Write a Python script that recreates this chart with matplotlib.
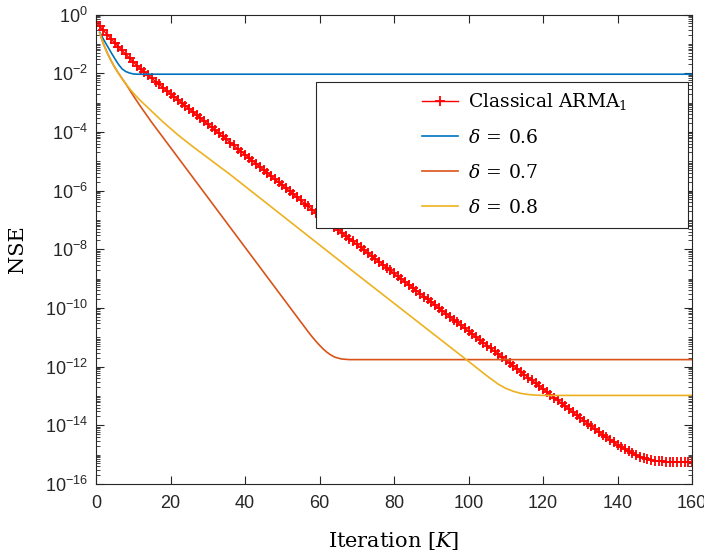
import numpy as np
import matplotlib
matplotlib.use("Agg")
import matplotlib.pyplot as plt
from matplotlib.patches import Rectangle
from matplotlib.ticker import FixedLocator, FuncFormatter, LogLocator, NullFormatter

plt.rcParams['font.family'] = 'Liberation Sans'
plt.rcParams['mathtext.fontset'] = 'custom'
plt.rcParams['mathtext.rm'] = 'DejaVu Serif'
plt.rcParams['mathtext.it'] = 'DejaVu Serif:italic'
plt.rcParams['mathtext.sf'] = 'Liberation Sans'

# NSE values stored as log10
iter_arma = np.arange(0, 161)
nse_arma = [
    -0.26, -0.40, -0.54, -0.68, -0.82, -0.96, -1.09, -1.22, -1.35, -1.48,
    -1.61, -1.74, -1.85, -1.96, -2.07, -2.17, -2.28, -2.38, -2.49, -2.59,
    -2.69, -2.80, -2.90, -3.01, -3.11, -3.21, -3.32, -3.42, -3.53, -3.63,
    -3.73, -3.84, -3.94, -4.05, -4.15, -4.25, -4.36, -4.46, -4.57, -4.67,
    -4.77, -4.88, -4.98, -5.09, -5.19, -5.29, -5.40, -5.50, -5.61, -5.71,
    -5.81, -5.92, -6.02, -6.13, -6.23, -6.33, -6.44, -6.54, -6.65, -6.75,
    -6.85, -6.95, -7.04, -7.14, -7.24, -7.34, -7.44, -7.54, -7.64, -7.73,
    -7.83, -7.93, -8.03, -8.13, -8.23, -8.33, -8.42, -8.52, -8.62, -8.72,
    -8.82, -8.92, -9.02, -9.11, -9.21, -9.31, -9.41, -9.51, -9.61, -9.70,
    -9.80, -9.90, -10.00, -10.10, -10.20, -10.30, -10.40, -10.49, -10.59, -10.69,
    -10.79, -10.89, -10.99, -11.09, -11.18, -11.28, -11.38, -11.48, -11.58, -11.68,
    -11.78, -11.87, -11.97, -12.07, -12.17, -12.27, -12.37, -12.47, -12.56, -12.66,
    -12.76, -12.86, -12.96, -13.06, -13.15, -13.25, -13.35, -13.45, -13.55, -13.65,
    -13.74, -13.84, -13.94, -14.04, -14.14, -14.23, -14.32, -14.41, -14.50, -14.58,
    -14.66, -14.74, -14.82, -14.89, -14.96, -15.02, -15.07, -15.12, -15.16, -15.19,
    -15.21, -15.22, -15.23, -15.24, -15.24, -15.24, -15.24, -15.24, -15.24, -15.24,
    -15.24,
]

iter_d06 = [1, 2, 3, 4, 5, 6, 7, 8, 9, 10, 11, 12, 160]
nse_d06 = [-0.60, -0.84, -1.06, -1.28, -1.49, -1.69, -1.85, -1.94, -1.99, -2.02,
           -2.03, -2.03, -2.03]

iter_d07 = [1, 2, 3, 4, 5, 6, 7, 8, 9, 10, 11, 12, 13, 14, 15, 16,
            20, 25, 30, 35, 40, 45, 50, 55,
            56, 57, 58, 59, 60, 61, 62, 63, 64, 65, 66, 67, 68, 160]
nse_d07 = [-0.63, -1.00, -1.30, -1.56, -1.79, -1.99, -2.18, -2.36, -2.56, -2.76,
           -2.95, -3.14, -3.32, -3.50, -3.68, -3.85,
           -4.53, -5.38, -6.23, -7.08, -7.93, -8.78, -9.63, -10.48,
           -10.65, -10.82, -10.98, -11.13, -11.27, -11.40, -11.51, -11.60, -11.67,
           -11.71, -11.74, -11.75, -11.76, -11.76]

iter_d08 = [1, 2, 3, 4, 5, 6, 7, 8, 9, 10, 11, 12, 13, 14,
            18, 22, 26, 30, 36, 40, 50, 60, 70, 80, 90, 100,
            105, 108, 110, 112, 114, 116, 118, 120, 160]
nse_d08 = [-0.63, -1.00, -1.30, -1.56, -1.79, -1.99, -2.18, -2.36, -2.52, -2.67,
           -2.81, -2.94, -3.06, -3.18,
           -3.66, -4.10, -4.50, -4.88, -5.45, -5.85, -6.85, -7.85, -8.85, -9.84,
           -10.83, -11.82,
           -12.32, -12.60, -12.74, -12.84, -12.91, -12.95, -12.97, -12.98, -12.98]

labels = ['Classical ARMA$_1$', r'$\delta\,=\,0.6$', r'$\delta\,=\,0.7$', r'$\delta\,=\,0.8$']

fig = plt.figure(figsize=(7.04, 5.53), dpi=100)
ax = fig.add_axes([0.1364, 0.1248, 0.8466, 0.8487])

ax.plot(iter_arma, 10.0 ** np.array(nse_arma), '-', color='red', marker='+',
        markersize=7, markeredgewidth=1.3, linewidth=1.0, label=labels[0])
ax.plot(iter_d06, 10.0 ** np.array(nse_d06), color='#0072BD', linewidth=1.2, label=labels[1])
ax.plot(iter_d07, 10.0 ** np.array(nse_d07), color='#D95319', linewidth=1.2, label=labels[2])
ax.plot(iter_d08, 10.0 ** np.array(nse_d08), color='#EDB120', linewidth=1.2, label=labels[3])

ax.set_yscale('log')
ax.set_xlim(0, 160)
ax.set_ylim(1e-16, 1e0)
ax.set_xticks(np.arange(0, 161, 20))
ax.yaxis.set_major_locator(FixedLocator([10.0 ** p for p in range(-16, 1, 2)]))
ax.yaxis.set_major_formatter(FuncFormatter(
    lambda v, pos: r'$\mathsf{10^{%d}}$' % int(round(np.log10(v)))))
ax.yaxis.set_minor_locator(LogLocator(base=10, subs=np.arange(1, 10), numticks=100))
ax.yaxis.set_minor_formatter(NullFormatter())

dark = '#262626'
for s in ax.spines.values():
    s.set_color(dark)
    s.set_linewidth(0.8)
ax.tick_params(which='both', direction='in', top=True, right=True, colors=dark)
ax.tick_params(which='major', length=6, width=0.8, labelsize=13)
ax.tick_params(which='minor', length=3, width=0.6)
ax.tick_params(axis='x', which='major', pad=8)
ax.tick_params(axis='y', which='major', pad=6)

ax.set_xlabel('Iteration [$K$]', fontsize=15, family='DejaVu Serif')
ax.set_ylabel('NSE', fontsize=15, family='DejaVu Serif')
ax.xaxis.set_label_coords(0.5, -0.098)
ax.yaxis.set_label_coords(-0.116, 0.5)

# legend frame drawn separately (MATLAB style wide box)
ax.add_patch(Rectangle((0.369, 0.5455), 0.624, 0.3115, transform=ax.transAxes,
                       facecolor='white', edgecolor=dark, linewidth=0.8, zorder=4))
leg = ax.legend(loc='upper left', bbox_to_anchor=(0.547, 0.837), frameon=False,
                borderpad=0, borderaxespad=0, handlelength=1.9, handletextpad=0.55,
                labelspacing=0.9, prop={'family': 'DejaVu Serif', 'size': 13.5})
leg.set_zorder(5)

fig.savefig('out.png', dpi=100)
